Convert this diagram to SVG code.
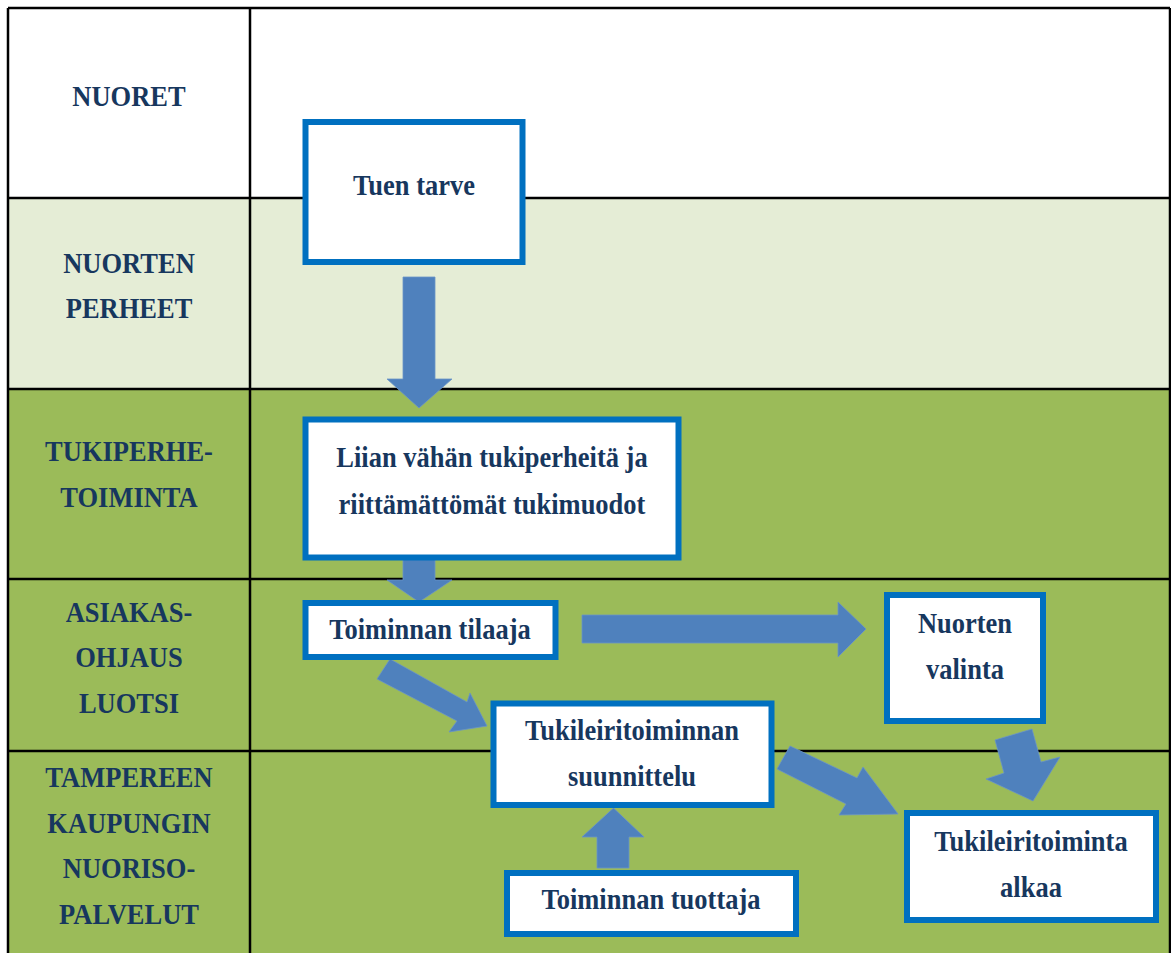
<svg xmlns="http://www.w3.org/2000/svg" width="1171" height="953" viewBox="0 0 1171 953">
<style>
.lbl{font-family:"Liberation Serif","Times New Roman",serif;font-weight:bold;font-size:26.5px;fill:#17375E;text-anchor:middle}
.box{fill:#FFFFFF;stroke:#0070C0;stroke-width:6}
.arr{fill:#4F81BD;stroke:#6A94C8;stroke-width:0.8}
.grid{stroke:#000000;stroke-width:2.5;fill:none}
</style>
<rect x="0" y="0" width="1171" height="953" fill="#FFFFFF"/>
<g id="table">
<rect x="8" y="8" width="1162" height="190" fill="#FFFFFF"/>
<rect x="8" y="198" width="1162" height="191" fill="#E5EDD6"/>
<rect x="8" y="389" width="1162" height="564" fill="#9BBB59"/>
<path class="grid" d="M8,8 H1170 M8,8 V953 M1170,8 V953 M250,8 V953 M8,198 H1170 M8,389 H1170 M8,579 H1170 M8,751 H1170"/>
</g>
<g id="row-labels">
<text class="lbl" transform="translate(129,106) scale(1,1.12)">NUORET</text>
<text class="lbl" transform="translate(129,273) scale(1,1.12)">NUORTEN</text>
<text class="lbl" transform="translate(129,318) scale(1,1.12)">PERHEET</text>
<text class="lbl" transform="translate(129,461) scale(1,1.12)">TUKIPERHE-</text>
<text class="lbl" transform="translate(129,507) scale(1,1.12)">TOIMINTA</text>
<text class="lbl" transform="translate(129,622) scale(1,1.12)">ASIAKAS-</text>
<text class="lbl" transform="translate(129,667) scale(1,1.12)">OHJAUS</text>
<text class="lbl" transform="translate(129,713) scale(1,1.12)">LUOTSI</text>
<text class="lbl" transform="translate(129,787) scale(1,1.12)">TAMPEREEN</text>
<text class="lbl" transform="translate(129,833) scale(1,1.12)">KAUPUNGIN</text>
<text class="lbl" transform="translate(129,878) scale(1,1.12)">NUORISO-</text>
<text class="lbl" transform="translate(129,924) scale(1,1.12)">PALVELUT</text>
</g>
<g id="connectors">
<polygon class="arr" points="403,277 435,277 435,379 452,379 419,408 387,379 403,379"/>
<polygon class="arr" points="403,558 435,558 435,580 452,580 419,602 387,580 403,580"/>
<polygon class="arr" points="582,615 838,615 838,602 866,629 838,657 838,643 582,643"/>
<polygon class="arr" points="390,659 467,702 470,693 487,726 449,732 457,721 377,679"/>
<polygon class="arr" points="790,746 857,778 863,767 898,814 839,815 846,804 777,769"/>
<polygon class="arr" points="995,740 1032,729 1041,762 1060,757 1033,801 986,779 1004,773"/>
<polygon class="arr" points="597,868 629,868 629,837 644,837 613.5,808 582,837 597,837"/>
</g>
<g id="tuen-tarve">
<rect class="box" x="305.5" y="122" width="217" height="140"/>
<text class="lbl" transform="translate(414,195) scale(1,1.12)">Tuen tarve</text>
</g>
<g id="liian-vahan">
<rect class="box" x="305.5" y="419.5" width="373" height="138"/>
<text class="lbl" transform="translate(492,467) scale(1,1.12)">Liian vähän tukiperheitä ja</text>
<text class="lbl" transform="translate(492,514) scale(1,1.12)">riittämättömät tukimuodot</text>
</g>
<g id="toiminnan-tilaaja">
<rect class="box" x="305.5" y="603" width="250" height="54"/>
<text class="lbl" transform="translate(430,639) scale(1,1.12)">Toiminnan tilaaja</text>
</g>
<g id="nuorten-valinta">
<rect class="box" x="887" y="595" width="156" height="126"/>
<text class="lbl" transform="translate(965,633) scale(1,1.12)">Nuorten</text>
<text class="lbl" transform="translate(965,679) scale(1,1.12)">valinta</text>
</g>
<g id="suunnittelu">
<rect class="box" x="493.5" y="703.5" width="278" height="101.5"/>
<text class="lbl" transform="translate(632,740) scale(1,1.12)">Tukileiritoiminnan</text>
<text class="lbl" transform="translate(632,786) scale(1,1.12)">suunnittelu</text>
</g>
<g id="toiminnan-tuottaja">
<rect class="box" x="507" y="873" width="289" height="61"/>
<text class="lbl" transform="translate(651,909) scale(1,1.12)">Toiminnan tuottaja</text>
</g>
<g id="tukileiritoiminta-alkaa">
<rect class="box" x="907" y="813" width="249" height="107"/>
<text class="lbl" transform="translate(1031,851) scale(1,1.12)">Tukileiritoiminta</text>
<text class="lbl" transform="translate(1031,897) scale(1,1.12)">alkaa</text>
</g>
</svg>
